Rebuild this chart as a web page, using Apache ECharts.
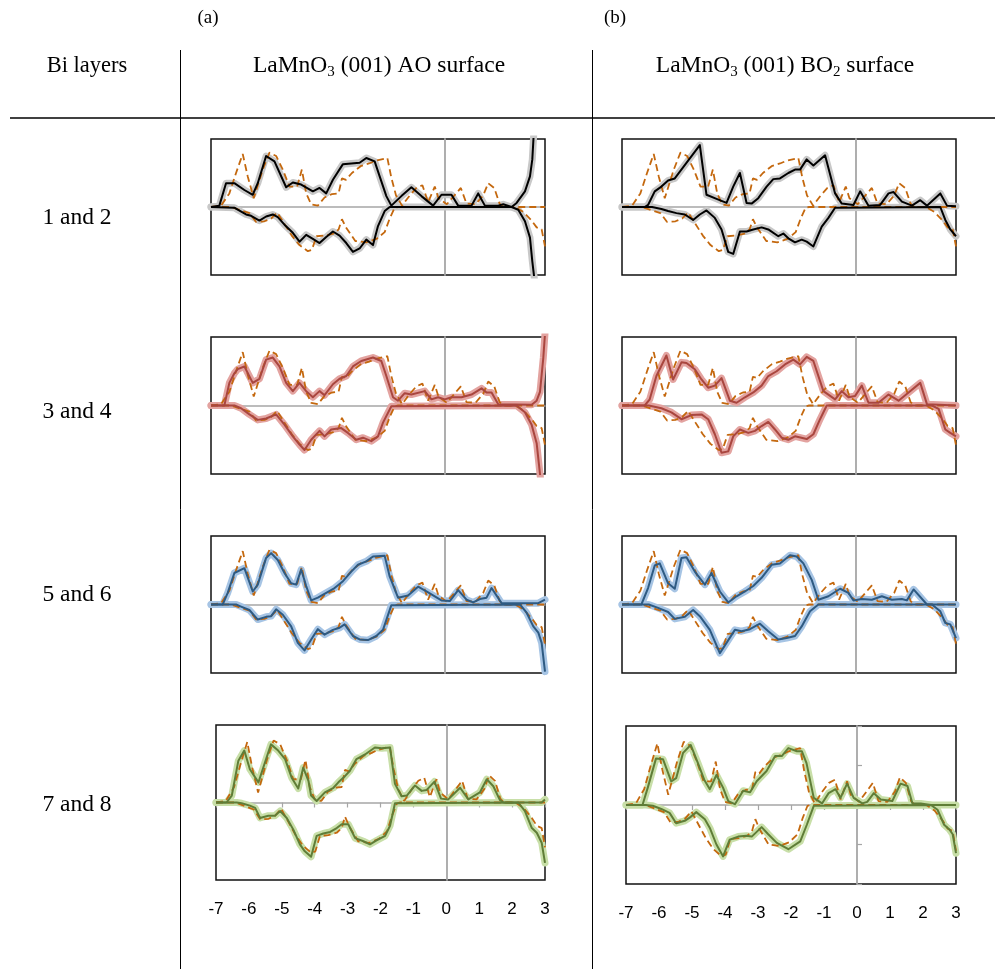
<!DOCTYPE html>
<html>
<head>
<meta charset="utf-8">
<script src="https://cdn.jsdelivr.net/npm/echarts/dist/echarts.min.js"></script>
<style>html,body{margin:0;padding:0;background:#fff;}#c{width:995px;height:969px;}</style>
</head>
<body>
<div id="c"></div>
<script>
// ---------- data ----------
const xTicks = [-7,-6,-5,-4,-3,-2,-1,0,1,2,3];
const rowLabels = ['1 and 2','3 and 4','5 and 6','7 and 8'];
const colLabels = ['(a)','(b)'];

// reference (dashed) curve, common to all panels
const dashUp = [[-7,0],[-6.7,0.02],[-6.45,0.2],[-6.25,0.5],[-6.05,0.78],[-5.9,0.45],[-5.72,0.13],[-5.45,0.55],[-5.25,0.8],[-5.05,0.75],[-4.85,0.55],[-4.65,0.3],[-4.42,0.3],[-4.28,0.55],[-4.15,0.2],[-4.0,0.04],[-3.8,0.02],[-3.6,0.14],[-3.38,0.19],[-3.18,0.2],[-3.08,0.42],[-2.96,0.4],[-2.78,0.5],[-2.52,0.6],[-2.27,0.64],[-2.07,0.68],[-1.72,0.72],[-1.6,0.43],[-1.46,0.17],[-1.28,0.02],[-1.05,0.17],[-0.85,0.28],[-0.67,0.32],[-0.5,0.07],[-0.3,0.3],[-0.19,0.13],[0.06,0.04],[0.48,0.28],[0.65,0.05],[0.92,0.04],[1.15,0.17],[1.3,0.35],[1.48,0.28],[1.64,0.05],[1.75,0],[3,0]];
const dashDown = [[-7,0],[-6.4,0],[-6.1,-0.05],[-5.85,-0.09],[-5.65,-0.22],[-5.4,-0.21],[-5.2,-0.17],[-5.02,-0.08],[-4.8,-0.25],[-4.58,-0.42],[-4.35,-0.56],[-4.1,-0.65],[-3.98,-0.63],[-3.84,-0.43],[-3.58,-0.42],[-3.33,-0.39],[-3.18,-0.33],[-3.08,-0.18],[-2.96,-0.3],[-2.68,-0.5],[-2.35,-0.52],[-2.05,-0.47],[-1.8,-0.37],[-1.65,-0.17],[-1.5,-0.01],[-1.4,0],[2.1,0],[2.35,-0.07],[2.6,-0.2],[2.75,-0.3],[2.9,-0.33],[3,-0.58]];

// Bi layers 1 and 2
const p1aUp = [[-7,0],[-6.75,0.02],[-6.55,0.35],[-6.3,0.35],[-6.0,0.25],[-5.75,0.18],[-5.6,0.35],[-5.35,0.75],[-5.1,0.67],[-4.75,0.29],[-4.55,0.36],[-4.3,0.33],[-3.95,0.23],[-3.75,0.28],[-3.55,0.2],[-3.35,0.4],[-3.05,0.63],[-2.8,0.64],[-2.55,0.65],[-2.35,0.72],[-2.1,0.67],[-1.95,0.45],[-1.75,0.16],[-1.6,0.02],[-1.3,0.16],[-1.0,0.29],[-0.7,0.16],[-0.35,0.02],[-0.1,0.18],[0.2,0.18],[0.4,0.02],[0.8,0.02],[1.0,0.2],[1.2,0.02],[1.6,0.02],[1.75,0.04],[2.0,0],[2.15,0.06],[2.4,0.23],[2.55,0.45],[2.62,0.7],[2.66,1.05],[2.75,1.6]];
const p1aDown = [[-7,0],[-6.3,-0.01],[-6.2,-0.04],[-5.95,-0.11],[-5.8,-0.13],[-5.55,-0.2],[-5.35,-0.14],[-5.15,-0.11],[-5.0,-0.15],[-4.8,-0.26],[-4.55,-0.38],[-4.35,-0.51],[-4.15,-0.41],[-3.95,-0.47],[-3.75,-0.53],[-3.55,-0.44],[-3.35,-0.36],[-3.15,-0.42],[-2.95,-0.53],[-2.75,-0.66],[-2.55,-0.61],[-2.35,-0.48],[-2.15,-0.56],[-2.0,-0.28],[-1.8,-0.06],[-1.65,0],[2.0,0],[2.2,-0.04],[2.4,-0.21],[2.55,-0.45],[2.62,-0.8],[2.68,-1.05],[2.8,-1.6]];
const p1bUp = [[-7,0],[-6.32,0],[-6.22,0.03],[-6.02,0.23],[-5.82,0.3],[-5.62,0.39],[-5.42,0.42],[-4.67,0.91],[-4.47,0.18],[-4.17,0.12],[-3.87,0.06],[-3.67,0.3],[-3.47,0.5],[-3.27,0.06],[-3.12,0.05],[-2.92,0.13],[-2.67,0.3],[-2.47,0.41],[-2.27,0.42],[-2.02,0.5],[-1.82,0.55],[-1.67,0.55],[-1.47,0.7],[-1.27,0.61],[-0.92,0.76],[-0.62,0.2],[-0.42,0.05],[-0.07,0.03],[0.13,0.23],[0.38,0.02],[0.73,0.03],[0.98,0.2],[1.13,0.22],[1.38,0.08],[1.68,0.02],[1.93,0.1],[2.13,0.02],[2.53,0.2],[2.73,0.02],[3,0.01]];
const p1bDown = [[-7,0],[-6.1,0],[-5.82,-0.03],[-5.62,-0.06],[-5.37,-0.09],[-5.12,-0.11],[-4.87,-0.19],[-4.67,-0.11],[-4.47,-0.05],[-4.22,-0.16],[-4.02,-0.33],[-3.82,-0.66],[-3.67,-0.69],[-3.47,-0.36],[-3.27,-0.36],[-3.07,-0.33],[-2.82,-0.3],[-2.62,-0.33],[-2.32,-0.43],[-2.17,-0.39],[-2.02,-0.46],[-1.82,-0.52],[-1.62,-0.48],[-1.47,-0.51],[-1.27,-0.58],[-1.02,-0.29],[-0.82,-0.16],[-0.62,-0.01],[2.53,0],[2.68,-0.19],[2.83,-0.33],[3,-0.43]];

// Bi layers 3 and 4
const p2aUp = [[-7,0],[-6.6,0],[-6.45,0.33],[-6.3,0.47],[-6.2,0.53],[-6.0,0.57],[-5.75,0.33],[-5.55,0.39],[-5.35,0.67],[-5.15,0.7],[-4.95,0.57],[-4.75,0.33],[-4.55,0.21],[-4.35,0.33],[-4.15,0.21],[-3.95,0.12],[-3.75,0.21],[-3.6,0.15],[-3.35,0.31],[-3.15,0.39],[-2.95,0.43],[-2.75,0.57],[-2.5,0.65],[-2.15,0.7],[-1.9,0.65],[-1.75,0.43],[-1.55,0.12],[-1.4,0.07],[-1.2,0.18],[-1.0,0.16],[-0.6,0.21],[-0.4,0.09],[-0.2,0.12],[0,0.09],[0.2,0.12],[0.5,0.12],[0.8,0.16],[1.1,0.25],[1.25,0.19],[1.4,0.19],[1.6,0.02],[2.6,0.01],[2.75,0.07],[2.85,0.2],[2.95,0.7],[3.0,1.05]];
const p2aDown = [[-7,0],[-6.3,0],[-6.1,-0.04],[-5.85,-0.13],[-5.6,-0.21],[-5.35,-0.19],[-5.05,-0.13],[-4.8,-0.28],[-4.55,-0.45],[-4.35,-0.57],[-4.2,-0.65],[-4.0,-0.5],[-3.75,-0.37],[-3.6,-0.45],[-3.4,-0.35],[-3.1,-0.33],[-2.9,-0.4],[-2.65,-0.5],[-2.45,-0.47],[-2.2,-0.52],[-2.0,-0.45],[-1.85,-0.25],[-1.6,-0.01],[2.15,0],[2.4,-0.1],[2.6,-0.28],[2.75,-0.55],[2.85,-1.0],[2.95,-1.4]];
const p2bUp = [[-7,0],[-6.32,0],[-6.17,0.09],[-5.97,0.43],[-5.67,0.73],[-5.47,0.38],[-5.22,0.63],[-5.07,0.62],[-4.82,0.53],[-4.62,0.38],[-4.42,0.26],[-4.22,0.29],[-4.02,0.4],[-3.77,0.07],[-3.57,0.04],[-3.32,0.12],[-3.07,0.19],[-2.82,0.29],[-2.62,0.43],[-2.37,0.5],[-2.12,0.6],[-1.87,0.67],[-1.67,0.6],[-1.47,0.71],[-1.27,0.65],[-0.97,0.21],[-0.62,0.09],[-0.42,0.21],[-0.22,0.12],[-0.02,0.14],[0.18,0.29],[0.38,0.04],[0.68,0.04],[0.98,0.16],[1.28,0.07],[1.58,0.19],[1.93,0.33],[2.13,0.02],[3,0]];
const p2bDown = [[-7,0],[-6.2,0],[-5.82,-0.04],[-5.52,-0.1],[-5.22,-0.2],[-4.92,-0.14],[-4.62,-0.13],[-4.42,-0.2],[-4.22,-0.42],[-4.02,-0.69],[-3.82,-0.67],[-3.67,-0.45],[-3.47,-0.35],[-3.22,-0.4],[-3.02,-0.37],[-2.82,-0.3],[-2.62,-0.24],[-2.42,-0.35],[-2.22,-0.47],[-2.02,-0.5],[-1.82,-0.45],[-1.47,-0.49],[-1.27,-0.42],[-1.07,-0.2],[-0.87,0],[2.28,0],[2.48,-0.05],[2.68,-0.35],[2.83,-0.4],[3,-0.45]];

// Bi layers 5 and 6
const p3aUp = [[-7,0],[-6.65,0],[-6.5,0.17],[-6.3,0.46],[-6.0,0.53],[-5.75,0.19],[-5.6,0.29],[-5.35,0.68],[-5.2,0.75],[-5.0,0.65],[-4.8,0.46],[-4.6,0.31],[-4.45,0.29],[-4.3,0.51],[-4.15,0.27],[-4.0,0.06],[-3.8,0.1],[-3.55,0.17],[-3.3,0.24],[-3.05,0.34],[-2.8,0.48],[-2.6,0.58],[-2.35,0.63],[-2.15,0.7],[-1.8,0.71],[-1.65,0.41],[-1.4,0.1],[-1.1,0.13],[-0.8,0.26],[-0.55,0.19],[-0.3,0.12],[-0.1,0.06],[0.15,0.05],[0.4,0.21],[0.65,0.07],[0.85,0.03],[1.05,0.08],[1.25,0.1],[1.4,0.24],[1.7,0.02],[2.8,0.02],[3,0.07]];
const p3aDown = [[-7,0],[-6.25,0],[-6.1,-0.03],[-5.85,-0.08],[-5.6,-0.22],[-5.35,-0.18],[-5.2,-0.17],[-5.05,-0.07],[-4.85,-0.15],[-4.6,-0.32],[-4.4,-0.56],[-4.2,-0.67],[-4.0,-0.51],[-3.8,-0.36],[-3.6,-0.44],[-3.35,-0.37],[-3.15,-0.34],[-3.0,-0.29],[-2.75,-0.46],[-2.55,-0.51],[-2.3,-0.52],[-2.05,-0.46],[-1.85,-0.37],[-1.6,-0.01],[2.25,0],[2.45,-0.12],[2.65,-0.32],[2.8,-0.41],[2.9,-0.56],[3,-0.98]];
const p3bUp = [[-7,0],[-6.42,0],[-6.22,0.24],[-6.02,0.57],[-5.87,0.6],[-5.62,0.31],[-5.42,0.23],[-5.22,0.68],[-5.07,0.69],[-4.82,0.48],[-4.52,0.29],[-4.32,0.46],[-4.07,0.19],[-3.82,0.03],[-3.57,0.12],[-3.32,0.19],[-3.07,0.27],[-2.82,0.39],[-2.52,0.58],[-2.27,0.6],[-1.97,0.72],[-1.77,0.7],[-1.57,0.6],[-1.32,0.36],[-1.12,0.07],[-0.82,0.12],[-0.47,0.23],[-0.22,0.17],[-0.07,0.06],[0.18,0.08],[0.48,0.07],[0.78,0.12],[1.08,0.07],[1.38,0.08],[1.53,0.06],[1.73,0.22],[2.13,0],[3,0]];
const p3bDown = [[-7,0],[-6.2,0],[-5.92,-0.05],[-5.62,-0.11],[-5.42,-0.21],[-5.12,-0.18],[-4.87,-0.08],[-4.67,-0.17],[-4.37,-0.37],[-4.07,-0.71],[-3.87,-0.56],[-3.62,-0.37],[-3.42,-0.39],[-3.17,-0.36],[-2.87,-0.28],[-2.62,-0.39],[-2.32,-0.51],[-2.07,-0.49],[-1.82,-0.46],[-1.62,-0.32],[-1.37,-0.1],[-1.12,0],[2.28,0],[2.53,-0.1],[2.68,-0.27],[2.83,-0.29],[3,-0.49]];

// Bi layers 7 and 8
const p4aUp = [[-7,0],[-6.68,0],[-6.52,0.09],[-6.32,0.54],[-6.14,0.67],[-5.97,0.43],[-5.71,0.26],[-5.51,0.52],[-5.33,0.75],[-5.11,0.67],[-4.9,0.56],[-4.7,0.32],[-4.5,0.18],[-4.35,0.45],[-4.19,0.28],[-4.11,0.09],[-3.94,0.02],[-3.69,0.13],[-3.43,0.19],[-3.28,0.26],[-3.08,0.34],[-2.93,0.41],[-2.73,0.56],[-2.47,0.62],[-2.17,0.71],[-1.96,0.7],[-1.71,0.71],[-1.56,0.24],[-1.36,0.08],[-1.2,0.09],[-0.95,0.22],[-0.75,0.15],[-0.6,0.16],[-0.36,0.27],[-0.16,0.05],[0.06,0.04],[0.42,0.19],[0.67,0.04],[1.02,0.13],[1.23,0.3],[1.43,0.21],[1.63,0.03],[1.75,0],[2.9,0],[3,0.04]];
const p4aDown = [[-7,0],[-6.37,0],[-6.22,-0.01],[-5.97,-0.04],[-5.81,-0.07],[-5.66,-0.2],[-5.41,-0.17],[-5.21,-0.17],[-5.05,-0.11],[-4.85,-0.2],[-4.65,-0.35],[-4.45,-0.54],[-4.3,-0.63],[-4.11,-0.7],[-3.94,-0.43],[-3.74,-0.4],[-3.53,-0.38],[-3.33,-0.33],[-3.18,-0.28],[-2.98,-0.28],[-2.77,-0.46],[-2.52,-0.5],[-2.32,-0.54],[-2.12,-0.49],[-1.86,-0.43],[-1.71,-0.3],[-1.56,-0.01],[2.19,0],[2.39,-0.11],[2.6,-0.33],[2.75,-0.39],[2.9,-0.52],[3,-0.78]];
const p4bUp = [[-7,0],[-6.5,0],[-6.34,0.22],[-6.09,0.59],[-5.88,0.58],[-5.63,0.3],[-5.48,0.34],[-5.27,0.66],[-5.04,0.76],[-4.82,0.53],[-4.63,0.32],[-4.46,0.2],[-4.26,0.38],[-4.06,0.22],[-3.9,0.05],[-3.7,0.01],[-3.45,0.18],[-3.24,0.16],[-3.04,0.3],[-2.74,0.43],[-2.48,0.62],[-2.28,0.62],[-2.08,0.72],[-1.82,0.68],[-1.67,0.68],[-1.53,0.53],[-1.31,0.09],[-1.06,0.02],[-0.86,0.15],[-0.65,0.2],[-0.5,0.09],[-0.3,0.27],[-0.1,0.09],[0.16,0.02],[0.31,0.04],[0.51,0.15],[0.72,0.07],[1.07,0.05],[1.32,0.27],[1.53,0.24],[1.68,0.02],[1.93,0.02],[2.24,0],[3,0]];
const p4bDown = [[-7,0],[-6.4,0],[-6.19,-0.01],[-5.93,-0.05],[-5.68,-0.1],[-5.48,-0.23],[-5.22,-0.2],[-5.07,-0.16],[-4.87,-0.09],[-4.61,-0.18],[-4.46,-0.29],[-4.26,-0.5],[-4.06,-0.65],[-3.86,-0.44],[-3.6,-0.4],[-3.35,-0.39],[-3.19,-0.4],[-2.89,-0.28],[-2.69,-0.37],[-2.43,-0.48],[-2.08,-0.56],[-1.72,-0.46],[-1.52,-0.25],[-1.31,-0.01],[2.24,0],[2.44,-0.06],[2.64,-0.25],[2.8,-0.31],[2.9,-0.37],[3,-0.61]];

// ---------- layout / styles ----------
const rowStyle = [
  {thin:'#000000', halo:'#c8c8c8'},
  {thin:'#a9463f', halo:'#e3a3a0'},
  {thin:'#2e5a82', halo:'#a6c4e4'},
  {thin:'#5f7d37', halo:'#c8dfa8'}
];
const panels = [
  {row:0, g:{left:211,top:139,width:334,height:136}, up:p1aUp, down:p1aDown},
  {row:0, g:{left:622,top:139,width:334,height:136}, up:p1bUp, down:p1bDown},
  {row:1, g:{left:211,top:337,width:334,height:137}, up:p2aUp, down:p2aDown},
  {row:1, g:{left:622,top:337,width:334,height:137}, up:p2bUp, down:p2bDown},
  {row:2, g:{left:211,top:536,width:334,height:137}, up:p3aUp, down:p3aDown},
  {row:2, g:{left:622,top:536,width:334,height:137}, up:p3bUp, down:p3bDown},
  {row:3, g:{left:216,top:725,width:329,height:155}, up:p4aUp, down:p4aDown, labels:true},
  {row:3, g:{left:626,top:726,width:330,height:158}, up:p4bUp, down:p4bDown, labels:true, yticks:true}
];

const grids = [], xAxes = [], yAxes = [], series = [];
const gray = '#a6a6a6';
panels.forEach((p, i) => {
  grids.push(Object.assign({show:true, borderColor:'#111', borderWidth:1.5, backgroundColor:'rgba(0,0,0,0)', containLabel:false}, p.g));
  const xi = xAxes.length;
  xAxes.push({type:'value', gridIndex:i, min:xTicks[0], max:xTicks[xTicks.length-1], interval:1,
    axisLine:{show:true, onZero:true, lineStyle:{color:gray, width:1.5}},
    axisTick:{show:p.row===3, length:5, lineStyle:{color:gray, width:1.2}},
    axisLabel:{show:false}, splitLine:{show:false}});
  if (p.labels) {
    xAxes.push({type:'value', gridIndex:i, position:'bottom', min:xTicks[0], max:xTicks[xTicks.length-1], interval:1,
      axisLine:{show:false, onZero:false}, axisTick:{show:false}, splitLine:{show:false},
      axisLabel:{show:true, margin:21, color:'#000', fontSize:17, fontFamily:'Liberation Sans'}});
  }
  yAxes.push({type:'value', gridIndex:i, min:-1, max:1, interval:0.5,
    axisLine:{show:true, onZero:true, lineStyle:{color:gray, width:1.8}},
    axisTick:{show:!!p.yticks, inside:true, length:5, lineStyle:{color:gray, width:1.2}},
    axisLabel:{show:false}, splitLine:{show:false}});
  const st = rowStyle[p.row];
  const base = {type:'line', xAxisIndex:xi, yAxisIndex:i, symbol:'none', silent:true, animation:false, clip:true};
  [p.up, p.down].forEach(d => series.push(Object.assign({}, base, {data:d, z:2, lineStyle:{color:st.halo, width:7, cap:'round', join:'round'}})));
  [dashUp, dashDown].forEach(d => series.push(Object.assign({}, base, {data:d, z:3, lineStyle:{color:'#c4680e', width:1.8, type:[7,4]}})));
  [p.up, p.down].forEach(d => series.push(Object.assign({}, base, {data:d, z:4, lineStyle:{color:st.thin, width:2, join:'round'}})));
});

const serif = 'Liberation Serif';
const txt = (x, y, t, size, extra) => ({type:'text', x:x, y:y, z:10, style:Object.assign({text:t, fill:'#000', font:size+'px "'+serif+'"', fontSize:size, fontFamily:serif, align:'center', textAlign:'center', verticalAlign:'middle', textVerticalAlign:'middle'}, extra||{})});
const richSub = {
  a:{fontFamily:serif, fontSize:23.5, lineHeight:28, color:'#000'},
  s:{fontFamily:serif, fontSize:15, lineHeight:15, padding:[13,0,0,0], color:'#000'}
};
const graphics = [
  txt(208, 18, colLabels[0], 19),
  txt(615, 18, colLabels[1], 19),
  txt(87, 66, 'Bi layers', 22.5),
  txt(379, 66, '{a|LaMnO}{s|3}{a| (001) AO surface}', 23.5, {rich:richSub}),
  txt(785, 66, '{a|LaMnO}{s|3}{a| (001) BO}{s|2}{a| surface}', 23.5, {rich:richSub}),
  {type:'line', z:10, shape:{x1:10, y1:118, x2:995, y2:118}, style:{stroke:'#000', lineWidth:1.5}},
  {type:'line', z:10, shape:{x1:180.5, y1:50, x2:180.5, y2:969}, style:{stroke:'#000', lineWidth:1}},
  {type:'line', z:10, shape:{x1:592.5, y1:50, x2:592.5, y2:969}, style:{stroke:'#000', lineWidth:1}}
];
const rowY = [218, 412, 595, 805];
rowLabels.forEach((t, k) => graphics.push(txt(77, rowY[k], t, 23.5)));

const chart = echarts.init(document.getElementById('c'), null, {renderer:'canvas'});
chart.setOption({
  animation:false,
  backgroundColor:'#ffffff',
  grid:grids, xAxis:xAxes, yAxis:yAxes, series:series,
  graphic:graphics
});
</script>
</body>
</html>
